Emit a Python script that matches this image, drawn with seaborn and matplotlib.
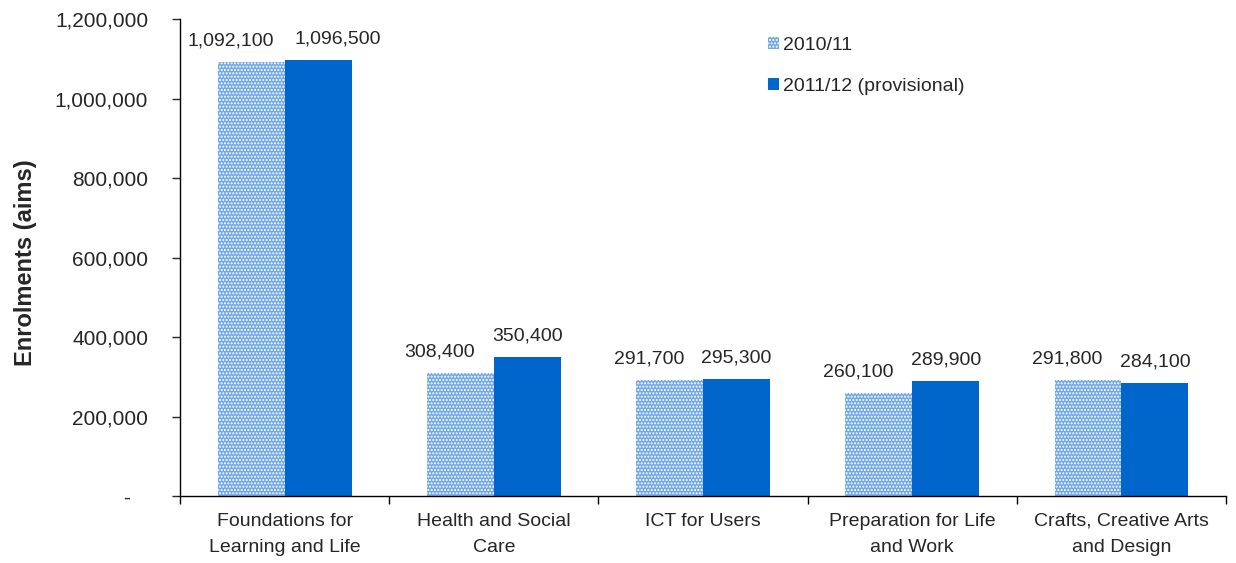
import numpy as np
import pandas as pd
import matplotlib
matplotlib.use("Agg")
import matplotlib.pyplot as plt
import seaborn as sns
from matplotlib.ticker import FuncFormatter, FixedLocator

categories = ['Foundations for\nLearning and Life', 'Health and Social\nCare', 'ICT for Users',
              'Preparation for Life\nand Work', 'Crafts, Creative Arts\nand Design']
years = ['2010/11', '2011/12 (provisional)']
enrol_2010 = [1092100, 308400, 291700, 260100, 291800]
enrol_2011 = [1096500, 350400, 295300, 289900, 284100]

df = pd.DataFrame({
    'Category': categories * 2,
    'Year': [years[0]] * 5 + [years[1]] * 5,
    'Enrolments': enrol_2010 + enrol_2011,
})

sns.set_style("white")
plt.rcParams['font.family'] = ['Liberation Sans', 'DejaVu Sans']
plt.rcParams['hatch.color'] = 'white'
plt.rcParams['hatch.linewidth'] = 1.0

fig = plt.figure(figsize=(12.36, 5.63), dpi=100)
ax = fig.add_axes([0.1456, 0.119, 0.8464, 0.847])

sns.barplot(data=df, x='Category', y='Enrolments', hue='Year',
            palette=['#72a8e6', '#0066cc'], width=0.64, ax=ax,
            saturation=1, edgecolor='none', linewidth=0)

# checkered fill for the first series
for bar in ax.containers[0]:
    bar.set_hatch('.....')
    bar.set_edgecolor('white')
    bar.set_linewidth(0)

# value labels (Excel nudges the first series left)
for k, cont in enumerate(ax.containers):
    for i, bar in enumerate(cont):
        v = cont.datavalues[i]
        dx = -15 if k == 0 else (14 if i == 0 else 0)
        ax.annotate(f'{v:,.0f}', (bar.get_x() + bar.get_width() / 2, v),
                    xytext=(dx, 9), textcoords='offset points',
                    ha='center', va='bottom', fontsize=14)

ax.set_ylim(0, 1200000)
ax.set_xlim(-0.5, 4.5)
ax.set_yticks(np.arange(0, 1200001, 200000))
ax.yaxis.set_major_formatter(FuncFormatter(lambda v, p: '-   ' if v == 0 else f'{v:,.0f}'))
ax.set_ylabel('Enrolments (aims)', fontsize=17, fontweight='bold')
ax.yaxis.set_label_coords(-0.137, 0.49)
ax.set_xlabel('')

ax.set_xticks(range(len(categories)))
ax.set_xticklabels(categories, linespacing=1.75)
ax.xaxis.set_minor_locator(FixedLocator(np.arange(-0.5, 5, 1)))
ax.tick_params(axis='x', which='major', length=0, labelsize=14, pad=12)
ax.tick_params(axis='x', which='minor', length=6, width=1, direction='out', color='black', bottom=True)
ax.tick_params(axis='y', which='major', length=6, width=1, direction='out', labelsize=15, left=True, pad=17)

for s in ['top', 'right']:
    ax.spines[s].set_visible(False)
for s in ['left', 'bottom']:
    ax.spines[s].set_color('black')
    ax.spines[s].set_linewidth(1)

handles, labels = ax.get_legend_handles_labels()
handles[0].set_hatch('.....')
handles[0].set_edgecolor('white')
ax.legend(handles, labels, loc='upper left', bbox_to_anchor=(0.545, 1.0), frameon=False,
          fontsize=14, handlelength=0.6, handleheight=0.6, handletextpad=0.2,
          labelspacing=1.25)

fig.savefig('out.png', dpi=100)
